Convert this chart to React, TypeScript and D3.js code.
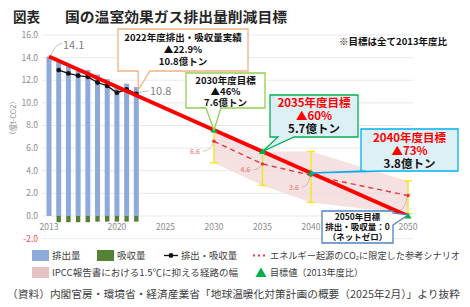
import React from 'react';
import * as d3 from 'd3';

const W = 470;
const H = 307;
const FONT = '"Noto Sans CJK JP", "Noto Sans", sans-serif';

// 実績（億t-CO2）
const barYears = [2013, 2014, 2015, 2016, 2017, 2018, 2019, 2020, 2021, 2022];
const emissions = [14.1, 13.6, 13.2, 13.0, 12.9, 12.5, 12.1, 11.5, 11.7, 11.4];
const absorbYears = [2014, 2015, 2016, 2017, 2018, 2019, 2020, 2021, 2022];
const absorption = [-0.55, -0.55, -0.55, -0.55, -0.5, -0.5, -0.5, -0.5, -0.5];
const netYears = [2014, 2015, 2016, 2017, 2018, 2019, 2020, 2021, 2022];
const netValues = [12.9, 12.6, 12.4, 12.3, 11.8, 11.5, 10.9, 11.2, 10.8];

// 目標値
const targetYears = [2013, 2030, 2035, 2040, 2050];
const targetValues = [14.1, 7.6, 5.7, 3.8, 0];

// エネルギー起源CO2の参考シナリオ
const scenarioYears = [2030, 2035, 2040, 2050];
const scenarioValues = [6.6, 4.6, 3.6, 1.8];

// IPCC 1.5℃経路の幅
const ipccYears = [2030, 2035, 2040, 2050];
const ipccLow = [4.7, 2.7, 1.2, 0.2];
const ipccHigh = [7.6, 5.7, 5.7, 3.1];

// 2045 は 2050年目標の吹き出しに隠れるので出さない
const xTicks = [2013, 2020, 2025, 2030, 2035, 2040, 2050];
const yTicks = [-2, 0, 2, 4, 6, 8, 10, 12, 14, 16];

const x = d3.scaleLinear().domain([2013, 2050]).range([49, 408]);
const y = d3.scaleLinear().domain([-2, 16]).range([238.6, 35]);

type Side = 'bottom' | 'right';
function calloutPath(bx: number, by: number, bw: number, bh: number, side: Side, a: number, b: number, tx: number, ty: number) {
  if (side === 'bottom') {
    return `M${bx},${by}H${bx + bw}V${by + bh}H${b}L${tx},${ty}L${a},${by + bh}H${bx}Z`;
  }
  return `M${bx},${by}H${bx + bw}V${a}L${tx},${ty}L${bx + bw},${b}V${by + bh}H${bx}Z`;
}

interface Line { text: string; color: string; size: number; dy: number }
interface Callout {
  box: [number, number, number, number];
  side: Side;
  base: [number, number];
  tip: [number, number];
  stroke: string;
  fill: string;
  lines: Line[];
}

export default function App() {
  const iLast = netYears.length - 1;
  const callouts: Callout[] = [
    {
      box: [118, 29, 130, 42], side: 'bottom', base: [138, 150],
      tip: [x(netYears[iLast]) + 2, y(netValues[iLast]) - 4],
      stroke: '#f4b183', fill: '#fff',
      lines: [
        { text: '2022年度排出・吸収量実績', color: '#111', size: 9.5, dy: 9 },
        { text: '▲22.9%', color: '#111', size: 9.5, dy: 21 },
        { text: `${netValues[iLast]}億トン`, color: '#111', size: 9.5, dy: 33 },
      ],
    },
    {
      box: [186, 73, 79, 35], side: 'bottom', base: [206, 221],
      tip: [x(targetYears[1]), y(targetValues[1])],
      stroke: '#92d050', fill: '#fff',
      lines: [
        { text: '2030年度目標', color: '#111', size: 9.5, dy: 7.5 },
        { text: '▲46%', color: '#111', size: 9.5, dy: 18.5 },
        { text: `${targetValues[1]}億トン`, color: '#111', size: 9.5, dy: 29.5 },
      ],
    },
    {
      box: [270, 95, 88, 42], side: 'bottom', base: [278, 294],
      tip: [x(targetYears[2]), y(targetValues[2])],
      stroke: '#00b050', fill: '#dcf0f6',
      lines: [
        { text: '2035年度目標', color: '#f00', size: 11.5, dy: 8 },
        { text: '▲60%', color: '#f00', size: 11.5, dy: 21 },
        { text: `${targetValues[2]}億トン`, color: '#111', size: 11.5, dy: 34 },
      ],
    },
    {
      box: [361, 129, 97, 42], side: 'bottom', base: [366, 382],
      tip: [x(targetYears[3]), y(targetValues[3])],
      stroke: '#00b0f0', fill: '#dcf0f6',
      lines: [
        { text: '2040年度目標', color: '#f00', size: 11.5, dy: 9 },
        { text: '▲73%', color: '#f00', size: 11.5, dy: 22 },
        { text: `${targetValues[3]}億トン`, color: '#111', size: 11.5, dy: 34.5 },
      ],
    },
    {
      box: [322, 211, 71, 32], side: 'right', base: [213, 225],
      tip: [x(targetYears[4]), y(targetValues[4]) - 1],
      stroke: '#4f81bd', fill: '#fff',
      lines: [
        { text: '2050年目標', color: '#111', size: 8.5, dy: 6.5 },
        { text: '排出・吸収量：0', color: '#111', size: 8.5, dy: 16.5 },
        { text: '（ネットゼロ）', color: '#111', size: 8.5, dy: 26.5 },
      ],
    },
  ];

  const targetLine = d3.line<number>().x((_, i) => x(targetYears[i])).y((d) => y(d));
  const netLine = d3.line<number>().x((_, i) => x(netYears[i])).y((d) => y(d));
  const scenarioLine = d3.line<number>().x((_, i) => x(scenarioYears[i])).y((d) => y(d));
  const band = d3.area<number>()
    .x((_, i) => x(ipccYears[i]))
    .y0((d) => y(d))
    .y1((_, i) => y(ipccHigh[i]));

  const barW = 5;
  // 参考シナリオ値ラベルの位置（点からのずれ）
  const scenarioLabelOffset: [number, number][] = [[-19, 10], [-17, 6], [-17, 12], [-22, 17]];

  return (
    <svg width={W} height={H} style={{ position: 'absolute', left: 0, top: 0, background: '#fff' }} fontFamily={FONT}>
      {/* タイトル */}
      <text x={13} y={21.5} fontSize={13.5} fontWeight="bold" fill="#262626">図表</text>
      <text x={65} y={21.5} fontSize={14} fontWeight="bold" fill="#262626" textLength={222} lengthAdjust="spacingAndGlyphs">国の温室効果ガス排出量削減目標</text>

      {/* グリッド */}
      {yTicks.map((t) => (
        <line key={t} x1={42} x2={413} y1={y(t)} y2={y(t)} stroke="#e3e3e3" strokeWidth={0.8} />
      ))}
      {yTicks.map((t) => (
        <text key={t} x={38} y={y(t)} dy="0.35em" textAnchor="end" fontSize={8.5} fill={t < 0 ? '#ff4b4b' : '#8c8c8c'}>
          {t.toFixed(1)}
        </text>
      ))}
      <text transform={`translate(13,118) rotate(-90)`} textAnchor="middle" dy="0.35em" fontSize={7.5} fill="#8c8c8c">（億t-CO2）</text>

      {xTicks.map((t) => (
        <text key={t} x={x(t)} y={227} dy="0.35em" textAnchor="middle" fontSize={8.5} fill="#8c8c8c">{t}</text>
      ))}

      {/* IPCC経路の幅 */}
      <path d={band(ipccLow) ?? ''} fill="#f2d7d7" opacity={0.75} />

      {/* 排出量・吸収量 */}
      {emissions.map((v, i) => (
        <rect key={barYears[i]} x={x(barYears[i]) - barW / 2} y={y(v)} width={barW} height={y(0) - y(v)} fill="#8eaadb" />
      ))}
      {absorption.map((v, i) => (
        <rect key={absorbYears[i]} x={x(absorbYears[i]) - 2.2} y={y(0)} width={4.4} height={y(v) - y(0)} fill="#548235" />
      ))}

      {/* 黄色のひげ */}
      {ipccYears.map((yr, i) => (
        <g key={yr} stroke="#f5e61c" strokeWidth={1.4}>
          <line x1={x(yr)} x2={x(yr)} y1={y(ipccHigh[i])} y2={y(ipccLow[i])} />
          <line x1={x(yr) - 4} x2={x(yr) + 4} y1={y(ipccHigh[i])} y2={y(ipccHigh[i])} />
          <line x1={x(yr) - 4} x2={x(yr) + 4} y1={y(ipccLow[i])} y2={y(ipccLow[i])} />
        </g>
      ))}

      {/* 参考シナリオ */}
      <path d={scenarioLine(scenarioValues) ?? ''} fill="none" stroke="#e8383d" strokeWidth={1.4} strokeDasharray="5,4" />
      {scenarioValues.map((v, i) => {
        const px = x(scenarioYears[i]);
        const py = y(v);
        const [ox, oy] = scenarioLabelOffset[i];
        return (
          <g key={scenarioYears[i]}>
            <circle cx={px} cy={py} r={1.8} fill="#e8383d" />
            <path d={`M${px + ox + 8},${py + oy}Q${px - 3},${py + oy - 1} ${px - 1},${py + 2}`} fill="none" stroke="#a6a6a6" strokeWidth={0.6} />
            <text x={px + ox} y={py + oy} dy="0.35em" textAnchor="middle" fontSize={7} fill="#e86a6a">{v.toFixed(1)}</text>
          </g>
        );
      })}

      {/* 排出・吸収量（純） */}
      <path d={netLine(netValues) ?? ''} fill="none" stroke="#111" strokeWidth={1.3} />
      {netValues.map((v, i) => (
        <circle key={netYears[i]} cx={x(netYears[i])} cy={y(v)} r={2.4} fill="#111" />
      ))}

      {/* 目標経路 */}
      <path d={targetLine(targetValues) ?? ''} fill="none" stroke="#ff0000" strokeWidth={4} />

      {/* 目標値マーカー */}
      {targetYears.slice(1).map((yr, i) => {
        const px = x(yr);
        const py = y(targetValues[i + 1]);
        return <path key={yr} d={`M${px},${py - 3.5}L${px + 3.5},${py + 2.5}L${px - 3.5},${py + 2.5}Z`} fill="#00b050" />;
      })}

      {/* 値ラベル */}
      <path d={`M62,43.5Q55,44 51,55`} fill="none" stroke="#a6a6a6" strokeWidth={0.7} />
      <text x={63} y={45.5} dy="0.35em" fontSize={11} fill="#7f7f7f">{emissions[0].toFixed(1)}</text>
      <path d={`M148,91Q143,91 139,93`} fill="none" stroke="#a6a6a6" strokeWidth={0.7} />
      <text x={150} y={91.5} dy="0.35em" fontSize={11} fill="#7f7f7f">{netValues[iLast].toFixed(1)}</text>

      <text x={447} y={42} dy="0.35em" textAnchor="end" fontSize={9.5} fontWeight="bold" fill="#111">※目標は全て2013年度比</text>

      {/* 吹き出し */}
      {callouts.map((c, k) => {
        const [bx, by, bw, bh] = c.box;
        return (
          <g key={k}>
            <path d={calloutPath(bx, by, bw, bh, c.side, c.base[0], c.base[1], c.tip[0], c.tip[1])} fill={c.fill} stroke={c.stroke} strokeWidth={1.3} />
            {c.lines.map((l, j) => (
              <text key={j} x={bx + bw / 2} y={by + l.dy} dy="0.35em" textAnchor="middle" fontSize={l.size} fontWeight="bold" fill={l.color}>{l.text}</text>
            ))}
          </g>
        );
      })}

      {/* 凡例 */}
      <g fontSize={9.5} fill="#404040">
        <rect x={32} y={250} width={17} height={11} fill="#8eaadb" />
        <text x={52} y={255.5} dy="0.35em">排出量</text>
        <rect x={97} y={250} width={17} height={11} fill="#548235" />
        <text x={117} y={255.5} dy="0.35em">吸収量</text>
        <line x1={164} x2={178} y1={255.5} y2={255.5} stroke="#111" strokeWidth={1.3} />
        <circle cx={171} cy={255.5} r={2.4} fill="#111" />
        <text x={181} y={255.5} dy="0.35em" textLength={56} lengthAdjust="spacingAndGlyphs">排出・吸収量</text>
        <line x1={253} x2={267} y1={255.5} y2={255.5} stroke="#e8383d" strokeWidth={2} strokeDasharray="2,3" />
        <text x={270} y={255.5} dy="0.35em" textLength={190} lengthAdjust="spacingAndGlyphs">エネルギー起源のCO₂に限定した参考シナリオ</text>
        <rect x={32} y={267} width={17} height={11} fill="#e6c1c1" />
        <text x={52} y={272.5} dy="0.35em" textLength={186} lengthAdjust="spacingAndGlyphs">IPCC報告書における1.5℃に抑える経路の幅</text>
        <path d="M261,267.5L266.5,277L255.5,277Z" fill="#00b050" />
        <text x={270} y={272.5} dy="0.35em" textLength={93} lengthAdjust="spacingAndGlyphs">目標値（2013年度比）</text>
      </g>

      <text x={7} y={294} dy="0.35em" fontSize={10.6} fill="#404040" textLength={453} lengthAdjust="spacingAndGlyphs">
        （資料）内閣官房・環境省・経済産業省「地球温暖化対策計画の概要（2025年2月）」より抜粋
      </text>
    </svg>
  );
}
